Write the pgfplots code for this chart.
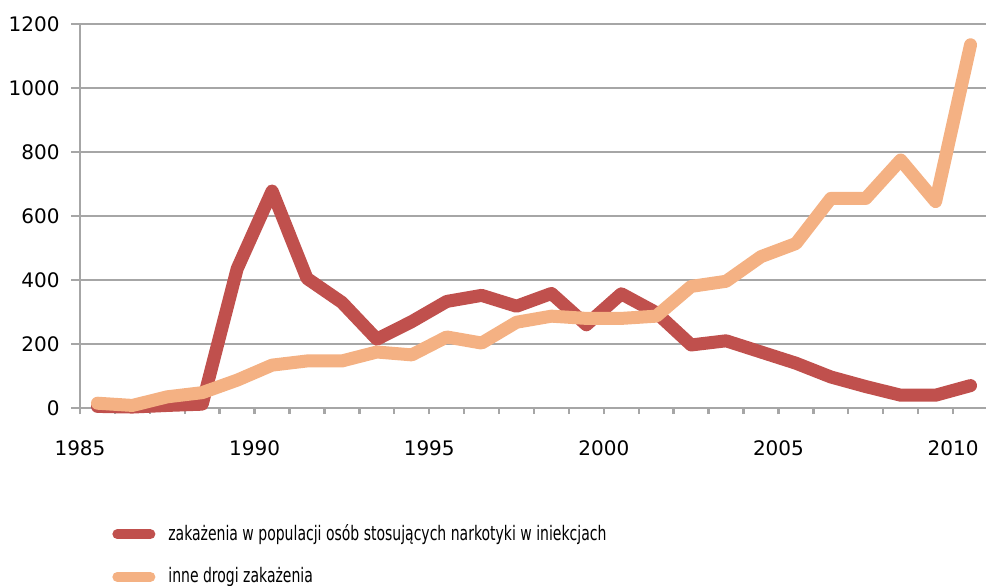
\documentclass[border=0pt]{standalone}
\usepackage{pgfplots}
\pgfplotsset{compat=1.18}
\usepackage{fontspec}
\setmainfont{DejaVu Sans}
\newfontfamily\legfont[FakeStretch=0.70]{DejaVu Sans}
\definecolor{cred}{HTML}{C0504D}
\definecolor{cpeach}{HTML}{F4B183}
\definecolor{cgrid}{HTML}{A6A6A6}
\pgfplotstableread{
x y
1985.5 5
1986.5 3
1987.5 8
1988.5 12
1989.5 435
1990.5 678
1991.5 405
1992.5 330
1993.5 215
1994.5 270
1995.5 333
1996.5 352
1997.5 318
1998.5 358
1999.5 260
2000.5 357
2001.5 298
2002.5 197
2003.5 210
2004.5 175
2005.5 140
2006.5 97
2007.5 67
2008.5 40
2009.5 40
2010.5 70
}\redtab
\pgfplotstableread{
x y
1985.5 15
1986.5 8
1987.5 35
1988.5 48
1989.5 87
1990.5 134
1991.5 147
1992.5 147
1993.5 175
1994.5 166
1995.5 222
1996.5 203
1997.5 268
1998.5 287
1999.5 280
2000.5 280
2001.5 287
2002.5 380
2003.5 396
2004.5 473
2005.5 514
2006.5 655
2007.5 655
2008.5 775
2009.5 645
2010.5 1135
}\peachtab
\begin{document}
\begin{tikzpicture}
\useasboundingbox (0,0) rectangle (493pt,292.5pt);
\begin{axis}[
  at={(40pt,88.5pt)}, anchor=south west,
  scale only axis,
  width=454pt, height=192pt,
  xmin=1985, xmax=2011,
  ymin=0, ymax=1200,
  clip=false,
  axis x line=bottom, axis y line=left,
  axis line style={-, cgrid, line width=1.2pt},
  xtick={1985,1990,1995,2000,2005,2010},
  minor xtick={1985,...,2011},
  ytick={0,200,...,1200},
  /pgf/number format/1000 sep={},
  xticklabel style={inner sep=0pt, anchor=north, yshift=-11.5pt},
  yticklabel style={inner sep=0pt, anchor=east, xshift=-5.5pt},
  /pgf/number format/assume math mode=true,
  tick align=outside,
  major tick length=4.5pt,
  minor tick length=3pt,
  xtick style={/pgfplots/major tick length=3pt},
  tick style={cgrid, line width=1.2pt},
  ymajorgrids,
  grid style={cgrid, line width=1.2pt},
  tick label style={font=\fontsize{10}{12}\selectfont, black},
  legend cell align=left,
  legend image code/.code={\draw[#1, line width=5pt, line cap=round] (2.5pt,0pt) -- (19pt,0pt);},
  legend style={draw=none, fill=none, inner sep=0pt, anchor=north west,
    at={(axis description cs:0.0352,-0.303)},
    font=\legfont\fontsize{10}{12}\selectfont,
    nodes={inner sep=0pt},
    row sep=12pt,
    /tikz/every odd column/.append style={column sep=6.5pt}},
]
\addplot[cred, line width=6.5pt, line join=round, line cap=round] table[x=x,y=y] {\redtab};
\addlegendentry{zakażenia w populacji osób stosujących narkotyki w iniekcjach}
\addplot[cpeach, line width=6.5pt, line join=round, line cap=round] table[x=x,y=y] {\peachtab};
\addlegendentry{inne drogi zakażenia}
\end{axis}
\end{tikzpicture}
\end{document}
